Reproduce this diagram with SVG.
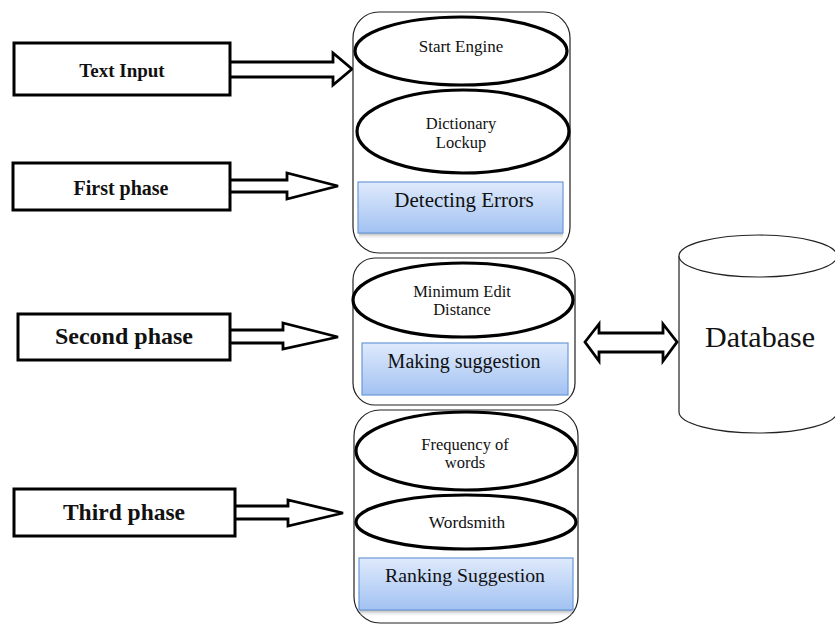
<svg xmlns="http://www.w3.org/2000/svg" width="835" height="624" viewBox="0 0 835 624">
<defs>
<linearGradient id="blue" x1="0" y1="0" x2="0" y2="1">
<stop offset="0" stop-color="#dfeafc"/>
<stop offset="1" stop-color="#a2c2f2"/>
</linearGradient>
<linearGradient id="shadow" x1="0" y1="0" x2="0" y2="1">
<stop offset="0" stop-color="#8a8a8a" stop-opacity="0.7"/>
<stop offset="1" stop-color="#ffffff" stop-opacity="0"/>
</linearGradient>
</defs>
<style>
.cont{fill:#ffffff;stroke:#222;stroke-width:1.2}
.ell{fill:#ffffff;stroke:#000;stroke-width:3.2}
.blue{fill:url(#blue);stroke:#6b98d8;stroke-width:1.2}
.shd{fill:url(#shadow);stroke:none}
.phase{fill:#ffffff;stroke:#000;stroke-width:3}
.arr{fill:#ffffff;stroke:#000;stroke-width:2.8;stroke-linejoin:miter}
text{font-family:'Liberation Serif','DejaVu Serif',serif;fill:#111;text-anchor:middle}
.b{font-weight:bold}
.db{fill:#ffffff;stroke:#222;stroke-width:1.2}
</style>
<rect width="835" height="624" fill="#ffffff"/>

<g id="connectors">
<path class="arr" d="M230,62 H333 V53 L352,69 L333,85 V77 H230"/>
<path class="arr" d="M230,180 H287 V173 L338,186 L287,199 V192 H230"/>
<path class="arr" d="M230,330 H283 V323 L338,337 L283,349 V343 H230"/>
<path class="arr" d="M235,506 H288 V500 L343,513 L288,526 V519 H235"/>
<path class="arr" stroke-width="3.2" d="M585,342 L599,324 V333 H663 V324 L677,342 L663,361 V352 H599 V361 Z"/>
</g>

<g id="text-input">
<rect class="phase" x="14" y="43" width="216" height="52"/>
<text class="b" font-family="Liberation Serif, serif" x="122" y="77" font-size="19">Text Input</text>
</g>
<g id="first-phase">
<rect class="phase" x="13" y="163" width="217" height="47"/>
<text class="b" font-family="Liberation Serif, serif" x="121" y="195" font-size="20">First phase</text>
</g>
<g id="second-phase">
<rect class="phase" x="18" y="314" width="212" height="46"/>
<text class="b" font-family="Liberation Serif, serif" x="124" y="344" font-size="24">Second phase</text>
</g>
<g id="third-phase">
<rect class="phase" x="14" y="489" width="221" height="47"/>
<text class="b" font-family="Liberation Serif, serif" x="124" y="520" font-size="23.5">Third phase</text>
</g>

<g id="phase1-group">
<rect class="cont" x="353" y="12" width="217" height="241" rx="26" ry="26"/>
<g id="start-engine">
<ellipse class="ell" cx="461" cy="51" rx="106" ry="34"/>
<text font-family="Liberation Serif, serif" x="461" y="52" font-size="17">Start Engine</text>
</g>
<g id="dictionary-lockup">
<ellipse class="ell" cx="463" cy="131.5" rx="106" ry="41.5"/>
<text font-family="Liberation Serif, serif" x="461" y="129" font-size="16.5">Dictionary</text>
<text font-family="Liberation Serif, serif" x="461" y="148" font-size="16.5">Lockup</text>
</g>
<g id="detecting-errors">
<rect class="shd" x="359" y="233" width="204" height="7"/>
<rect class="blue" x="358" y="182" width="205" height="51"/>
<text font-family="Liberation Serif, serif" x="464" y="207" font-size="21">Detecting Errors</text>
</g>
</g>

<g id="phase2-group">
<rect class="cont" x="353" y="258" width="222" height="147" rx="22" ry="22"/>
<g id="minimum-edit-distance">
<ellipse class="ell" cx="463" cy="300" rx="110" ry="37"/>
<text font-family="Liberation Serif, serif" x="462" y="297" font-size="16.5">Minimum Edit</text>
<text font-family="Liberation Serif, serif" x="462" y="315" font-size="16.5">Distance</text>
</g>
<g id="making-suggestion">
<rect class="blue" x="362" y="343" width="206" height="52"/>
<text font-family="Liberation Serif, serif" x="464" y="368" font-size="20">Making suggestion</text>
</g>
</g>

<g id="phase3-group">
<rect class="cont" x="354" y="410" width="224" height="213" rx="26" ry="26"/>
<g id="frequency-of-words">
<ellipse class="ell" cx="466" cy="451" rx="110" ry="39"/>
<text font-family="Liberation Serif, serif" x="465" y="450" font-size="16.5">Frequency of</text>
<text font-family="Liberation Serif, serif" x="465" y="468" font-size="16.5">words</text>
</g>
<g id="wordsmith">
<ellipse class="ell" cx="466" cy="522" rx="110" ry="27"/>
<text font-family="Liberation Serif, serif" x="467" y="528" font-size="17.3">Wordsmith</text>
</g>
<g id="ranking-suggestion">
<rect class="shd" x="360" y="610" width="212" height="7"/>
<rect class="blue" x="359" y="558" width="214" height="52"/>
<text font-family="Liberation Serif, serif" x="465" y="582" font-size="19.8">Ranking Suggestion</text>
</g>
</g>

<g id="database">
<path class="db" d="M679,256 V412 A79,21 0 0 0 837,412 V256"/>
<ellipse class="db" cx="758" cy="256" rx="79" ry="21"/>
<text font-family="Liberation Serif, serif" x="760" y="347" font-size="30">Database</text>
</g>
</svg>
